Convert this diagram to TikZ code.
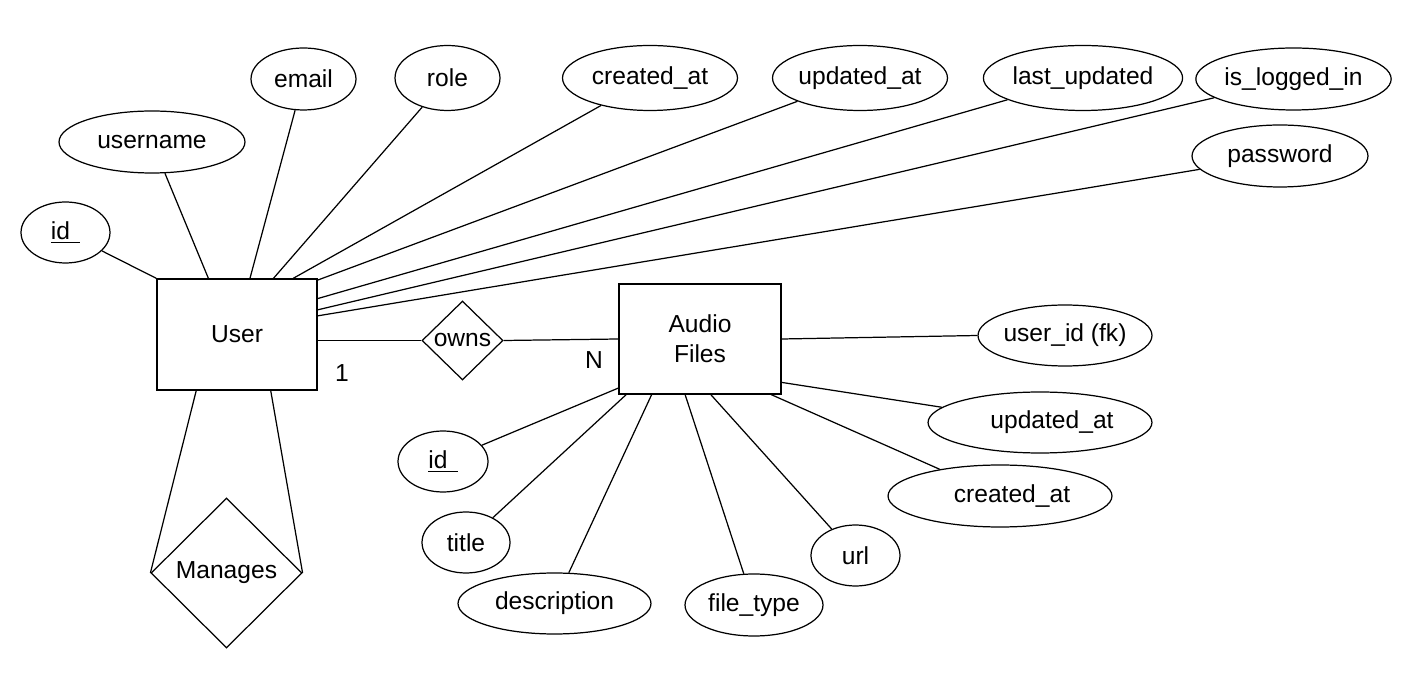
\documentclass[tikz,border=0pt]{standalone}
\usepackage{fontspec}
\setmainfont{Liberation Sans}
\usetikzlibrary{shapes.geometric}

\begin{document}
\begin{tikzpicture}[x=0.02cm, y=-0.02cm]
    % Define styles
    \tikzset{
        entity/.style={draw, line width=0.7pt, rectangle, inner sep=0pt, align=center, font=\fontsize{14}{17}\selectfont},
        attrib/.style={draw, line width=0.7pt, ellipse, inner sep=0pt, minimum height=1.22cm, font=\fontsize{14}{17}\selectfont},
        relation/.style={draw, line width=0.7pt, diamond, aspect=1, inner sep=0pt, font=\fontsize{14}{17}\selectfont},
        card/.style={inner sep=0pt, font=\fontsize{14}{17}\selectfont},
        link/.style={line width=0.7pt}
    }
    \useasboundingbox (0,0) rectangle (1406,678);

    % Entities
    \node[entity, minimum width=3.2cm, minimum height=2.22cm] (user) at (237,334.5) {User};
    \node[entity, minimum width=3.24cm, minimum height=2.2cm] (audio) at (700,339) {Audio\\Files};

    % User attributes
    \node[attrib, minimum width=1.78cm] (uid) at (65.5,232.5) {\underline{id\hspace{0.2cm}}};
    \node[attrib, minimum width=3.72cm, minimum height=1.24cm] (uname) at (152,142) {username};
    \node[attrib, minimum width=2.1cm, minimum height=1.24cm] (email) at (303.5,79) {email};
    \node[attrib, minimum width=2.1cm, minimum height=1.3cm] (role) at (447.5,78) {role};
    \node[attrib, minimum width=3.5cm, minimum height=1.3cm] (ucreated) at (650,78) {created\_at};
    \node[attrib, minimum width=3.5cm, minimum height=1.3cm] (uupdated) at (860,78) {updated\_at};
    \node[attrib, minimum width=3.52cm, minimum height=1.3cm] (ulast) at (1083,78) {last\_updated};
    \node[attrib, minimum width=3.54cm, minimum height=1.24cm] (ulogged) at (1293.5,79) {is\_logged\_in};
    \node[attrib, minimum width=3.52cm, minimum height=1.24cm] (upass) at (1280,156) {password};

    % Audio file attributes
    \node[attrib, minimum width=3.46cm] (afk) at (1065,335.5) {user\_id (fk)};
    \node[attrib, minimum width=4.48cm] (aupdated) at (1040,422.5) {\hspace{0.48cm}updated\_at};
    \node[attrib, minimum width=4.48cm, minimum height=1.24cm] (acreated) at (1000,496) {\hspace{0.48cm}created\_at};
    \node[attrib, minimum width=1.78cm] (aurl) at (855.5,555.5) {url};
    \node[attrib, minimum width=2.76cm, minimum height=1.24cm] (atype) at (754,605) {file\_type};
    \node[attrib, minimum width=3.86cm] (adesc) at (554.5,603.5) {description};
    \node[attrib, minimum width=1.76cm] (atitle) at (466,542.5) {title};
    \node[attrib, minimum width=1.8cm] (aid) at (443,461.5) {\underline{id\hspace{0.2cm}}};

    % Relationships
    \node[relation, minimum width=1.62cm, minimum height=1.58cm] (owns) at (462.5,340.5) {owns};
    \node[relation, minimum width=3.02cm, minimum height=3cm] (manages) at (226.5,573) {Manages};

    % Cardinalities
    \node[card] (one) at (342,373) {1};
    \node[card] (many) at (594,360) {N};

    % Connecting lines
    \draw[link] (uid) -- (user.north west);
    \foreach \a/\ang in {uname/117.6, email/77.8, role/57.8, ucreated/45, uupdated/34, ulast/24.5, ulogged/17.7, upass/13} {
        \draw[link] (\a) -- (user.\ang);
    }
    \foreach \a/\ang in {aid/-149.4, atitle/-143.7, adesc/-131.7, atype/-105.3, aurl/-79.7, acreated/-38, aupdated/-28.5} {
        \draw[link] (\a) -- (audio.\ang);
    }
    \draw[link] (audio.east) -- (afk.west);
    \draw[link] (owns.west -| user.east) -- (owns.west);
    \draw[link] (owns.east) -- (audio.west);
    \draw[link] (user.-126.5) -- (manages.west);
    \draw[link] (user.-59.3) -- (manages.east);

\end{tikzpicture}
\end{document}
